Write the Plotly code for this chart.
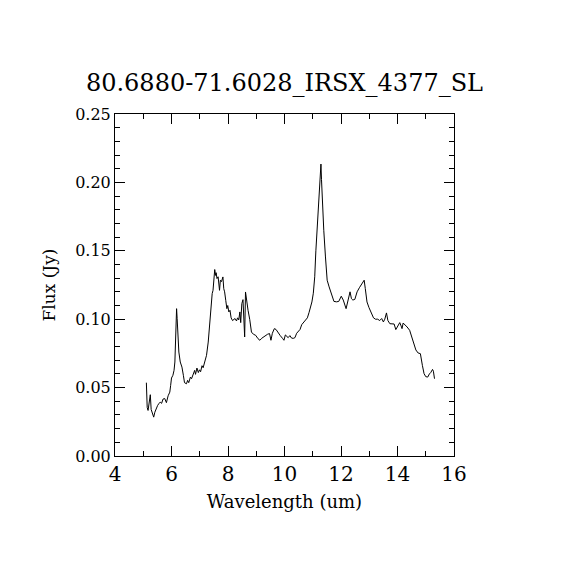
import plotly.graph_objects as go

title_text = "80.6880-71.6028_IRSX_4377_SL"
x_label = "Wavelength (um)"
y_label = "Flux (Jy)"

wavelength = [
    5.11, 5.12, 5.14, 5.17, 5.22, 5.25, 5.28, 5.32, 5.37, 5.41, 5.46, 5.51, 5.55, 5.60, 5.65,
    5.70, 5.76, 5.82, 5.88, 5.94, 5.97, 6.00, 6.05, 6.09, 6.12, 6.15, 6.18, 6.20, 6.22, 6.26,
    6.31, 6.37, 6.42, 6.46, 6.53, 6.57, 6.61, 6.67, 6.71, 6.76, 6.82, 6.85, 6.90, 6.95, 6.99,
    7.03, 7.08, 7.12, 7.18, 7.24, 7.30, 7.36, 7.41, 7.44, 7.47, 7.50, 7.53, 7.56, 7.58, 7.61,
    7.65, 7.70, 7.73, 7.77, 7.82, 7.85, 7.88, 7.92, 7.96, 7.99, 8.03, 8.07, 8.11, 8.16, 8.20,
    8.25, 8.30, 8.34, 8.38, 8.42, 8.45, 8.49, 8.53, 8.57, 8.59, 8.62, 8.65, 8.71, 8.77, 8.83,
    8.90, 8.98, 9.06, 9.13, 9.19, 9.25, 9.32, 9.40, 9.47, 9.52, 9.57, 9.64, 9.70, 9.78, 9.85,
    9.93, 9.98, 10.03, 10.08, 10.13, 10.19, 10.25, 10.31, 10.37, 10.43, 10.49, 10.55, 10.61,
    10.67, 10.75, 10.81, 10.87, 10.93, 10.97, 11.02, 11.07, 11.11, 11.16, 11.21, 11.25, 11.29,
    11.31, 11.35, 11.39, 11.45, 11.51, 11.58, 11.65, 11.75, 11.84, 11.92, 12.01, 12.08, 12.18,
    12.25, 12.32, 12.37, 12.42, 12.49, 12.57, 12.65, 12.75, 12.82, 12.86, 12.92, 12.99, 13.07,
    13.15, 13.22, 13.30, 13.37, 13.44, 13.50, 13.55, 13.61, 13.66, 13.73, 13.82, 13.88, 13.94,
    14.00, 14.08, 14.13, 14.16, 14.20, 14.27, 14.34, 14.43, 14.53, 14.59, 14.65, 14.73, 14.81,
    14.88, 14.94, 15.00, 15.07, 15.13, 15.18, 15.24, 15.27, 15.31,
]

flux = [
    0.0536, 0.0370, 0.0355, 0.0333, 0.0406, 0.0448, 0.0340, 0.0320, 0.0284, 0.0320, 0.0350,
    0.0370, 0.0382, 0.0394, 0.0385, 0.0416, 0.0420, 0.0390, 0.0440, 0.0467, 0.0516, 0.0570,
    0.0590, 0.0626, 0.0687, 0.0882, 0.1077, 0.1004, 0.0907, 0.0760, 0.0687, 0.0650, 0.0590,
    0.0536, 0.0528, 0.0553, 0.0536, 0.0577, 0.0565, 0.0597, 0.0626, 0.0597, 0.0643, 0.0610,
    0.0630, 0.0616, 0.0660, 0.0645, 0.0700, 0.0736, 0.0833, 0.1016, 0.1150, 0.1187, 0.1211,
    0.1285, 0.1363, 0.1320, 0.1340, 0.1297, 0.1310, 0.1211, 0.1285, 0.1275, 0.1309, 0.1223,
    0.1200, 0.1138, 0.1077, 0.1100, 0.1053, 0.1065, 0.1010, 0.0990, 0.0997, 0.1005, 0.0987,
    0.1010, 0.0995, 0.1053, 0.0975, 0.1114, 0.1143, 0.0943, 0.0870, 0.1199, 0.1140, 0.1065,
    0.0997, 0.0906, 0.0890, 0.0882, 0.0858, 0.0846, 0.0860, 0.0870, 0.0880, 0.0890, 0.0895,
    0.0846, 0.0897, 0.0931, 0.0925, 0.0897, 0.0880, 0.0860, 0.0846, 0.0885, 0.0875, 0.0865,
    0.0880, 0.0862, 0.0860, 0.0865, 0.0897, 0.0910, 0.0925, 0.0960, 0.0975, 0.0995, 0.1010,
    0.1050, 0.1090, 0.1126, 0.1190, 0.1310, 0.1500, 0.1700, 0.1890, 0.2050, 0.2134, 0.2020,
    0.1800, 0.1650, 0.1455, 0.1285, 0.1236, 0.1190, 0.1130, 0.1127, 0.1130, 0.1168, 0.1140,
    0.1077, 0.1150, 0.1200, 0.1150, 0.1140, 0.1145, 0.1200, 0.1230, 0.1265, 0.1285, 0.1224,
    0.1126, 0.1085, 0.1040, 0.1010, 0.1000, 0.1000, 0.0990, 0.1005, 0.0980, 0.1000, 0.1046,
    0.0990, 0.0967, 0.0963, 0.0965, 0.0924, 0.0950, 0.0975, 0.0950, 0.0931, 0.0972, 0.0960,
    0.0943, 0.0919, 0.0858, 0.0809, 0.0775, 0.0753, 0.0748, 0.0663, 0.0602, 0.0580, 0.0577,
    0.0600, 0.0611, 0.0633, 0.0620, 0.0565,
]

x_ticks = [4, 6, 8, 10, 12, 14, 16]
y_ticks = [0.00, 0.05, 0.10, 0.15, 0.20, 0.25]

FONT = "DejaVu Serif"
W = H = 562  # page body adds an 8px offset

fig = go.Figure()
fig.add_trace(go.Scatter(
    x=wavelength, y=flux, mode="lines",
    line=dict(color="black", width=1),
    showlegend=False, hoverinfo="skip",
))

fig.update_layout(
    width=W, height=H,
    margin=dict(l=107, r=116, t=106, b=114),
    paper_bgcolor="white", plot_bgcolor="white",
    title=dict(
        text=title_text, x=0.5, xref="paper", xanchor="center",
        y=1 - 75 / H, yref="container", yanchor="middle",
        font=dict(family=FONT, size=24, color="black"),
    ),
    font=dict(family=FONT, color="black"),
)

fig.update_xaxes(
    range=[4, 16], tickvals=x_ticks, ticktext=[str(v) for v in x_ticks],
    ticks="inside", ticklen=10, tickwidth=1, tickcolor="black",
    minor=dict(dtick=1, tick0=0, ticks="inside", ticklen=5, tickwidth=1, tickcolor="black"),
    showline=True, linecolor="black", linewidth=1, mirror="ticks",
    showgrid=False, zeroline=False,
    tickfont=dict(family=FONT, size=20, color="black"),
    title=dict(text=x_label, font=dict(family=FONT, size=18, color="black"), standoff=10),
)

fig.update_yaxes(
    range=[0, 0.25], tickvals=y_ticks, ticktext=[f"{v:.2f}" for v in y_ticks],
    ticks="inside", ticklen=10, tickwidth=1, tickcolor="black",
    minor=dict(dtick=0.01, tick0=0, ticks="inside", ticklen=5, tickwidth=1, tickcolor="black"),
    showline=True, linecolor="black", linewidth=1, mirror="ticks",
    showgrid=False, zeroline=False,
    tickfont=dict(family=FONT, size=16, color="black"),
    title=dict(text=y_label, font=dict(family=FONT, size=17, color="black"), standoff=15),
)

fig.write_html("out.html")
